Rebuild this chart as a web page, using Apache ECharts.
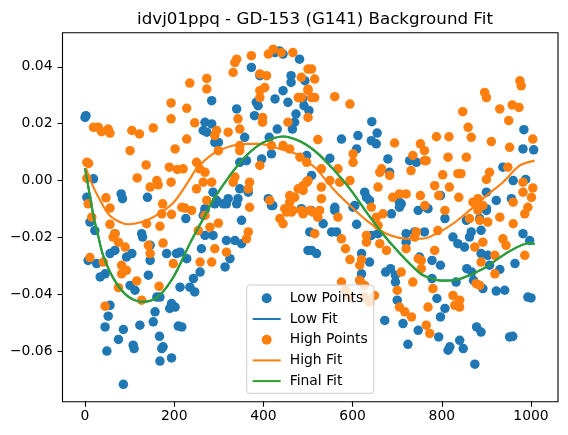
<!DOCTYPE html>
<html>
<head>
<meta charset="utf-8">
<script src="https://cdn.jsdelivr.net/npm/echarts@6/dist/echarts.min.js"></script>
<style>
  html, body { margin: 0; padding: 0; background: #fff; }
  #chart { width: 568px; height: 435px; }
</style>
</head>
<body>
<div id="chart"></div>
<script>
// scatter points, [x, y]
const lowPoints = [
  [2, 0.0228], [0, 0.0222], [19, 0.0006], [4, -0.0059], [81, -0.0047], [84, -0.0064], [140, -0.0059],
  [11, -0.0146], [22, -0.0176], [7, -0.0281], [26, -0.0292], [34, -0.0339], [45, -0.0328], [56, -0.0257],
  [67, -0.0246], [67, -0.0187], [93, -0.0269], [105, -0.0257], [127, -0.0187], [129, -0.0199], [146, -0.0228],
  [146, -0.0281], [101, -0.0369], [112, -0.0386], [142, -0.0333], [161, -0.041], [168, -0.041], [183, -0.0257],
  [205, -0.0257], [228, -0.0275], [226, -0.0134], [213, -0.0375], [194, -0.0433], [202, -0.0445], [190, -0.045],
  [157, -0.0462], [153, -0.0497], [209, -0.0512], [56, -0.0439], [52, -0.0477], [45, -0.0515], [86, -0.0524],
  [75, -0.0559], [123, -0.0509], [108, -0.0579], [110, -0.0591], [167, -0.0548], [175, -0.0585], [172, -0.0591],
  [194, -0.0624], [168, -0.0635], [49, -0.06], [86, -0.0717],
  [373, 0.0398], [426, 0.045], [444, 0.0445], [436, 0.0456], [481, 0.0427], [392, 0.0369], [462, 0.0369],
  [462, 0.0345], [444, 0.0316], [426, 0.0287], [455, 0.0275], [384, 0.0275], [388, 0.0263], [473, 0.0234],
  [470, 0.0205], [488, 0.0287], [491, 0.0263], [380, 0.0228], [431, 0.0181], [413, 0.0152], [465, 0.0181],
  [284, 0.0281], [340, 0.0252], [269, 0.0205], [284, 0.0199], [265, 0.0176], [273, 0.017], [291, 0.0134],
  [299, 0.0134], [358, 0.0152], [418, 0.0094], [497, 0.0088], [347, 0.0064], [362, 0.007], [396, 0.0076],
  [287, -0.0041], [295, -0.007], [321, -0.0064], [310, -0.0082], [347, -0.0029], [366, -0.0041], [343, -0.0064],
  [269, -0.0099], [411, -0.0064], [418, -0.0088], [497, -0.0006],
  [291, -0.0082], [317, -0.0082], [340, -0.0082], [269, -0.0105], [265, -0.0123], [351, -0.014], [269, -0.0193],
  [287, -0.0193], [317, -0.0211], [336, -0.0211], [351, -0.0222], [261, -0.024], [325, -0.0275], [314, -0.0304],
  [258, -0.0322], [243, -0.0345], [235, -0.0375], [246, -0.0392], [217, -0.0515], [421, -0.0088], [485, -0.0099],
  [507, -0.0105], [500, -0.0246], [504, -0.0181], [213, -0.0252],
  [493, 0.0351], [502, 0.0246], [643, 0.0207], [655, 0.0167], [612, 0.0158], [575, 0.0146], [642, 0.014],
  [653, 0.0129], [609, 0.0111], [549, 0.0078], [679, 0.0076], [728, 0.007], [743, 0.0064], [683, 0.0029],
  [508, 0.0018], [627, -0.0041], [631, -0.0059], [638, -0.007], [709, -0.0082], [705, -0.0094], [560, -0.0094],
  [601, -0.0094], [747, -0.0105], [769, -0.0099],
  [560, -0.0105], [605, -0.0088], [687, -0.0117], [705, -0.0076], [534, -0.0152], [553, -0.0181], [564, -0.0181],
  [609, -0.0154], [642, -0.0193], [657, -0.0187], [720, -0.0187], [739, -0.0181], [761, -0.0181], [720, -0.0217],
  [508, -0.0246], [519, -0.0257], [620, -0.0257], [638, -0.0287], [674, -0.0322], [685, -0.031], [696, -0.0333],
  [696, -0.0357], [620, -0.0328], [616, -0.0351], [700, -0.0421], [672, -0.0492], [713, -0.0503], [747, -0.0527],
  [724, -0.0576],
  [984, 0.0179], [982, 0.0111], [1006, 0.0108], [937, 0.0047], [960, 0.0], [988, 0.0004], [900, -0.0041],
  [922, -0.007], [956, -0.0064], [900, -0.0099], [797, -0.0053], [765, -0.0094],
  [807, -0.0134], [855, -0.014], [885, -0.0134], [900, -0.0105], [866, -0.0181], [862, -0.0199], [888, -0.0175],
  [825, -0.0199], [836, -0.0222], [851, -0.0234], [982, -0.0187], [997, -0.0211], [888, -0.0257], [903, -0.0263],
  [907, -0.0298], [964, -0.0292], [930, -0.0313], [778, -0.0281], [797, -0.0298], [856, -0.031], [867, -0.0322],
  [871, -0.0351], [892, -0.038], [922, -0.0389], [941, -0.0386], [778, -0.0345], [832, -0.0357], [993, -0.041],
  [1000, -0.0413], [789, -0.0415], [807, -0.045], [797, -0.048], [793, -0.055], [878, -0.0515], [888, -0.0533],
  [952, -0.055], [959, -0.0548], [840, -0.0562], [818, -0.0585], [848, -0.0591], [814, -0.0597], [874, -0.0646],
  [750, -0.0269]
];

const highPoints = [
  [19, 0.0187], [30, 0.0187], [37, 0.0172], [52, 0.0181], [56, 0.0167], [105, 0.0176], [122, 0.0164],
  [153, 0.0185], [101, 0.0105], [4, 0.0064], [8, 0.006], [4, 0.0008], [137, 0.0055], [117, 0.0009],
  [161, 0.0], [164, -0.0015], [146, -0.0023], [47, -0.0061], [56, -0.0097], [7, -0.0082], [174, -0.0082],
  [193, -0.0006], [202, 0.0111], [189, 0.0047], [207, 0.0039], [193, 0.0217], [193, 0.0273], [228, 0.0254],
  [235, 0.0343], [228, 0.0146], [217, -0.0094], [224, -0.0097],
  [15, -0.0129], [56, -0.0154], [63, -0.0199], [75, -0.0217], [67, -0.0187], [90, -0.0234], [11, -0.0271],
  [41, -0.0287], [82, -0.0298], [93, -0.0316], [82, -0.0328], [116, -0.0353], [75, -0.0377], [45, -0.0442],
  [127, -0.0421], [138, -0.0152], [168, -0.0161], [142, -0.0228], [146, -0.0257], [175, -0.022], [198, -0.0292],
  [166, -0.0372], [172, -0.0117], [194, -0.0119],
  [340, 0.0427], [336, 0.0415], [332, 0.038], [373, 0.0439], [411, 0.0445], [422, 0.0462], [440, 0.045],
  [466, 0.045], [273, 0.0359], [273, 0.0322], [392, 0.0375], [407, 0.0369], [403, 0.0327], [392, 0.0316],
  [392, 0.0292], [485, 0.0363], [500, 0.0392], [478, 0.0292], [500, 0.0316], [246, 0.0203], [398, 0.0222],
  [398, 0.0205], [343, 0.0217], [347, 0.0181], [321, 0.017], [295, 0.0176], [291, 0.0158], [455, 0.0205],
  [299, 0.0105], [347, 0.0123], [347, 0.0105], [418, 0.0123], [444, 0.0123], [459, 0.0111], [497, 0.0064],
  [250, 0.0064], [257, 0.0041], [269, 0.0029], [392, 0.0053], [220, 0.0041], [336, 0.0012], [332, -0.0006],
  [265, -0.0006], [284, -0.0006], [250, -0.0029], [369, -0.0006], [366, -0.0029], [273, -0.007], [369, -0.0094],
  [414, -0.007], [459, -0.0053], [470, -0.0059], [478, -0.0029], [489, -0.0018], [500, 0.0], [239, -0.0105],
  [448, -0.0099], [466, -0.0105], [485, -0.0105],
  [269, -0.0123], [280, -0.0164], [299, -0.015], [254, -0.0176], [366, -0.0181], [362, -0.0205], [291, -0.024],
  [317, -0.0252], [258, -0.0287], [284, -0.0287], [437, -0.0134], [452, -0.0111], [463, -0.0111], [444, -0.0152],
  [459, -0.0076],
  [508, 0.0392], [515, 0.0357], [500, 0.0322], [485, 0.0292], [508, 0.0292], [515, 0.0292], [560, 0.0295],
  [594, 0.0269], [500, 0.0222], [522, 0.0144], [694, 0.0132], [752, 0.0129], [601, 0.0094], [601, 0.0064],
  [735, 0.0088], [761, 0.0105], [761, 0.007], [482, 0.0082], [530, 0.0041], [567, 0.0041], [665, 0.0041],
  [661, 0.0029], [683, 0.0018], [731, 0.0035], [549, 0.0], [571, -0.0006], [594, 0.0], [497, -0.0006],
  [489, -0.0035], [530, -0.0023], [657, -0.0023], [530, -0.0064], [690, -0.0059], [705, -0.0047], [720, -0.0047],
  [752, -0.0053], [504, -0.0105], [511, -0.0111], [642, -0.0094],
  [489, -0.0117], [522, -0.0129], [526, -0.0105], [567, -0.0129], [515, -0.0187], [575, -0.0205], [584, -0.024],
  [594, -0.0278], [620, -0.0278], [616, -0.0298], [631, -0.0193], [631, -0.0217], [653, -0.0129], [657, -0.0158],
  [661, -0.0222], [676, -0.0246], [720, -0.024], [739, -0.0199], [743, -0.0181], [747, -0.0275], [754, -0.0281],
  [709, -0.0322], [735, -0.0357], [575, -0.0357], [616, -0.0351], [627, -0.0369], [649, -0.0404], [584, -0.0386],
  [594, -0.041], [627, -0.041], [638, -0.0427], [700, -0.0386], [705, -0.0445], [717, -0.0462], [732, -0.048],
  [765, -0.0509], [773, -0.0538], [769, -0.0445], [668, -0.0117],
  [975, 0.0351], [978, 0.0333], [896, 0.031], [900, 0.0292], [930, 0.0252], [958, 0.0266], [973, 0.0257],
  [847, 0.0242], [950, 0.0211], [859, 0.0187], [866, 0.0152], [788, 0.0154], [816, 0.0154], [1004, 0.0146],
  [911, 0.0137], [952, 0.0117], [765, 0.007], [814, 0.0082], [855, 0.0082], [948, 0.0047], [907, 0.0029],
  [900, 0.0004], [836, 0.0024], [843, 0.0024], [802, 0.002], [982, -0.0006], [1004, -0.0026], [982, -0.0041],
  [1001, -0.0059], [784, -0.0018], [817, -0.0023], [793, -0.0053], [838, -0.0059], [870, -0.0076], [881, -0.0064],
  [878, -0.0088], [892, -0.0088], [960, -0.0076], [993, -0.0094], [807, -0.0105], [762, -0.0088], [881, -0.0105],
  [862, -0.0134], [885, -0.014], [903, -0.0146], [930, -0.0129], [960, -0.0152], [986, -0.0117], [791, -0.0176],
  [874, -0.0234], [892, -0.0217], [937, -0.0205], [944, -0.0228], [919, -0.0263], [986, -0.0263], [754, -0.031],
  [784, -0.0246], [888, -0.0287], [919, -0.0328], [877, -0.0363], [885, -0.0369], [780, -0.038], [825, -0.0404],
  [840, -0.0421], [829, -0.0439], [840, -0.0445]
];

// fitted curves, [x, y]
const lowFit = [
  [0, 0.0043], [10, -0.0045], [19, -0.0125], [30, -0.0198], [41, -0.0265], [64, -0.0345], [94, -0.0405],
  [127, -0.0427], [161, -0.0412], [198, -0.034], [235, -0.0222], [269, -0.0123], [287, -0.007], [325, 0.0018],
  [362, 0.0088], [400, 0.0134], [444, 0.0155], [482, 0.0138], [519, 0.0099], [556, 0.0041], [594, -0.0029],
  [631, -0.0111], [661, -0.0175], [706, -0.0257], [750, -0.0325], [773, -0.0343], [800, -0.0352], [830, -0.035],
  [862, -0.0333], [900, -0.0304], [937, -0.0263], [975, -0.023], [998, -0.022], [1008, -0.0224]
];
const finalFit = [
  [0, 0.0043], [10, -0.0045], [19, -0.0125], [30, -0.0198], [41, -0.0265], [64, -0.0345], [94, -0.0405],
  [127, -0.0427], [161, -0.0412], [198, -0.034], [235, -0.0222], [269, -0.0123], [287, -0.007], [325, 0.0018],
  [362, 0.0088], [400, 0.0134], [444, 0.0155], [482, 0.0138], [519, 0.0099], [556, 0.0041], [594, -0.0029],
  [631, -0.0111], [661, -0.0175], [706, -0.0257], [750, -0.0325], [773, -0.0343], [800, -0.0352], [830, -0.035],
  [862, -0.0333], [900, -0.0304], [937, -0.0263], [975, -0.023], [998, -0.022], [1008, -0.0224]
];
const highFit = [
  [2, 0.0045], [15, -0.001], [30, -0.0058], [56, -0.0124], [97, -0.0154], [125, -0.0147], [153, -0.0129],
  [198, -0.0078], [235, 0.0005], [250, 0.0042], [287, 0.0094], [330, 0.0122], [362, 0.0129], [392, 0.0129],
  [437, 0.0111], [482, 0.0088], [504, 0.006], [519, 0.0041], [556, -0.0029], [594, -0.0088], [631, -0.014],
  [676, -0.0187], [728, -0.0205], [760, -0.0204], [788, -0.0187], [825, -0.0152], [862, -0.0105], [900, -0.0053],
  [937, -0.0006], [975, 0.0053], [1008, 0.007]
];

const xTicks = [0, 200, 400, 600, 800, 1000];
const yTicks = [-0.06, -0.04, -0.02, 0, 0.02, 0.04];

const font = 'DejaVu Sans';
const chart = echarts.init(document.getElementById('chart'), null, { renderer: 'canvas' });

chart.setOption({
  animation: false,
  backgroundColor: '#fff',
  title: {
    text: 'idvj01ppq - GD-153 (G141) Background Fit',
    left: 310,
    top: 6,
    textAlign: 'center',
    textStyle: { fontFamily: font, fontSize: 16.7, fontWeight: 'normal', color: '#000' }
  },
  grid: {
    left: 62.5, right: 10, top: 32.7, bottom: 33.3,
    show: true, borderColor: '#000', borderWidth: 1.1, backgroundColor: 'transparent'
  },
  xAxis: {
    type: 'value', min: -50.5, max: 1060.5,
    axisLine: { show: false, onZero: false },
    splitLine: { show: false },
    axisTick: { show: true, inside: false, length: 5, lineStyle: { color: '#000', width: 1.1 }, customValues: xTicks },
    axisLabel: {
      customValues: xTicks, margin: 8, color: '#000', fontFamily: font, fontSize: 13.9,
      formatter: v => String(v)
    }
  },
  yAxis: {
    type: 'value', min: -0.0778, max: 0.0520,
    axisLine: { show: false, onZero: false },
    splitLine: { show: false },
    axisTick: { show: true, inside: false, length: 5, lineStyle: { color: '#000', width: 1.1 }, customValues: yTicks },
    axisLabel: {
      customValues: yTicks, margin: 10, color: '#000', fontFamily: font, fontSize: 13.9,
      formatter: v => v.toFixed(2).replace('-', '\u2212')
    }
  },
  legend: {
    orient: 'vertical',
    left: 246.7, top: 285,
    padding: [5.3, 6, 4.2, 5],
    itemGap: 4.7,
    itemWidth: 28, itemHeight: 10,
    backgroundColor: 'rgba(255,255,255,0.8)',
    borderColor: '#cccccc', borderWidth: 1, borderRadius: 3,
    textStyle: { fontFamily: font, fontSize: 13.9, color: '#000', lineHeight: 16, padding: [0, 0, 0, 4] },
    data: [
      'Low Points',
      { name: 'Low Fit', itemStyle: { opacity: 0 } },
      'High Points',
      { name: 'High Fit', itemStyle: { opacity: 0 } },
      { name: 'Final Fit', itemStyle: { opacity: 0 } }
    ]
  },
  series: [
    {
      name: 'Low Points', type: 'scatter', data: lowPoints,
      symbol: 'circle', symbolSize: 9.5,
      itemStyle: { color: '#1f77b4', opacity: 1 }
    },
    {
      name: 'Low Fit', type: 'line', data: lowFit, smooth: 0.3,
      symbol: 'none', lineStyle: { color: '#1f77b4', width: 2.1 }, itemStyle: { color: '#1f77b4' }
    },
    {
      name: 'High Points', type: 'scatter', data: highPoints,
      symbol: 'circle', symbolSize: 9.5,
      itemStyle: { color: '#ff7f0e', opacity: 1 }
    },
    {
      name: 'High Fit', type: 'line', data: highFit, smooth: 0.3,
      symbol: 'none', lineStyle: { color: '#ff7f0e', width: 2.1 }, itemStyle: { color: '#ff7f0e' }
    },
    {
      name: 'Final Fit', type: 'line', data: finalFit, smooth: 0.3,
      symbol: 'none', lineStyle: { color: '#2ca02c', width: 2.1 }, itemStyle: { color: '#2ca02c' }
    }
  ]
});
</script>
</body>
</html>
